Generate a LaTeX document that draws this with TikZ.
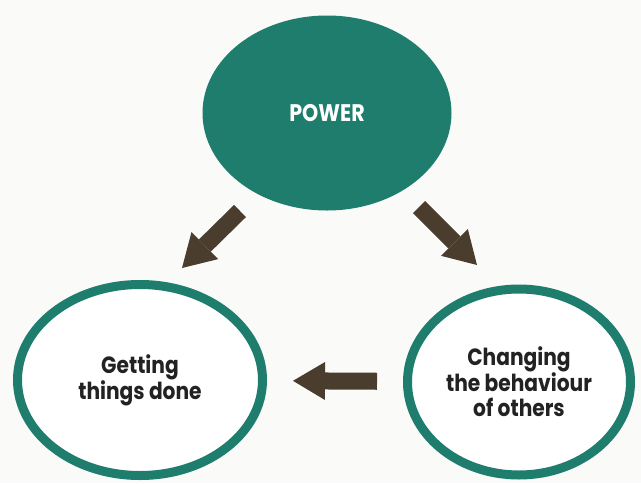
\documentclass[tikz,border=0pt]{standalone}
\usepackage{fontspec}
\setmainfont{Poppins}[FakeStretch=0.86]
\usetikzlibrary{shapes.geometric,arrows.meta}

\definecolor{powerteal}{HTML}{1E7D6C}
\definecolor{arrowbrown}{HTML}{4A3D2E}
\definecolor{inkgray}{HTML}{222222}
\definecolor{paper}{HTML}{FAFAF8}

\tikzset{
  powerblob/.style={shape=ellipse,fill=powerteal,minimum width=249pt,minimum height=195pt,
    text=white,font=\bfseries\fontsize{24}{27}\selectfont},
  ring/.style={shape=ellipse,draw=powerteal,line width=9pt,fill=white,align=center,
    text=inkgray,font=\bfseries\fontsize{23.5}{25}\selectfont},
  fatarrow/.style={draw=arrowbrown,line width=17pt,
    -{Triangle[width=38pt,length=32pt,line width=0pt]}}
}

\begin{document}
\begin{tikzpicture}[x=1pt,y=-1pt]
	\fill[paper] (0,0) rectangle (641,483);
	\useasboundingbox (0,0) rectangle (641,483);

	\node (powerNode) at (327,113)[powerblob] {POWER};
	\node (doneNode) at (140,380)[ring,minimum width=245pt,minimum height=191pt] {Getting\\things done};
	\node (changeNode) at (519,382)[ring,minimum width=223pt,minimum height=186pt] {Changing\\the behaviour\\of others};

	% the two arrows out of POWER
	\coordinate (leftTail) at (240,211);
	\coordinate (leftTip) at (182,268);
	\coordinate (rightTail) at (419,207);
	\coordinate (rightTip) at (477,265);
	\draw[fatarrow] (leftTail) -- (leftTip);
	\draw[fatarrow] (rightTail) -- (rightTip);

	\draw[fatarrow,shorten <=26pt,shorten >=26pt] (changeNode) -- (doneNode);
\end{tikzpicture}
\end{document}
